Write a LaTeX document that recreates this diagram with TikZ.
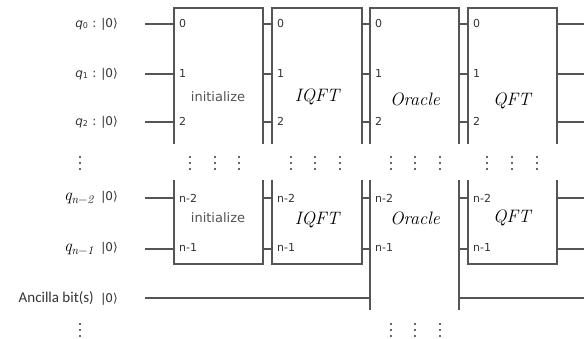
\documentclass[tikz,border=0pt]{standalone}
\usepackage{fontspec}
\setmainfont{DejaVu Sans}
\newfontfamily\calib{Carlito}
\newfontfamily\lmr{Latin Modern Roman}
\definecolor{wirec}{HTML}{555555}
\definecolor{txt}{HTML}{333333}
\begin{document}
\begin{tikzpicture}[x=1pt,y=-1pt,
 boxline/.style={draw=wirec,line width=1.8pt},
 wireline/.style={draw=wirec,line width=1.1pt},
 port/.style={font=\fontsize{11}{11}\selectfont,text=txt,anchor=west,inner sep=0pt},
 gname/.style={font=\fontsize{13}{13}\selectfont,text=txt!85,inner sep=0pt},
 mname/.style={font=\lmr\itshape\fontsize{18}{18}\selectfont,text=black,inner sep=0pt},
 qlab/.style={font=\fontsize{12}{12}\selectfont,text=txt,anchor=east,inner sep=0pt},
 dotc/.style={fill=txt,circle,inner sep=0pt,minimum size=2.4pt}]
\useasboundingbox (0,0) rectangle (584,339);
% left labels
\node[qlab] (l0) at (118,24) {\textit{q}\textsubscript{0} : |0⟩};
\node[qlab] (l1) at (118,74) {\textit{q}\textsubscript{1} : |0⟩};
\node[qlab] (l2) at (118,122) {\textit{q}\textsubscript{2} : |0⟩};
\node[qlab] (l3) at (118,198) {{\color{black}\lmr\itshape\fontsize{17}{17}\selectfont q\textsubscript{n{\upshape −}2}}\ \ |0⟩};
\node[qlab] (l4) at (118,249) {{\color{black}\lmr\itshape\fontsize{17}{17}\selectfont q\textsubscript{n{\upshape −}1}}\ \ |0⟩};
\node[qlab] (l5) at (118,298) {{\calib\fontsize{15}{15}\selectfont Ancilla bit(s)}\ \ |0⟩};
% wire coordinates
\foreach \y/\n in {24/a,74/b,122/c,198/d,249/e,298/f}{
  \coordinate (w\n0) at (145,\y);
  \coordinate (w\n1) at (174,\y);
  \coordinate (w\n2) at (263,\y);
  \coordinate (w\n3) at (272,\y);
  \coordinate (w\n4) at (362,\y);
  \coordinate (w\n5) at (370,\y);
  \coordinate (w\n6) at (459,\y);
  \coordinate (w\n7) at (468,\y);
  \coordinate (w\n8) at (557,\y);
  \coordinate (w\n9) at (584,\y);
}
\foreach \n in {a,b,c,d,e}{
  \draw[wireline] (w\n0) -- (w\n1);
  \draw[wireline] (w\n2) -- (w\n3);
  \draw[wireline] (w\n4) -- (w\n5);
  \draw[wireline] (w\n6) -- (w\n7);
  \draw[wireline] (w\n8) -- (w\n9);
}
\draw[wireline] (wf0) -- (wf5);
\draw[wireline] (wf6) -- (wf9);
% boxes
\foreach \l/\r in {174/263,272/362,370/459,468/557}{
  \draw[boxline] (\l,144) -- (\l,8) -- (\r,8) -- (\r,144);
}
\foreach \l/\r in {174/263,272/362,468/557}{
  \draw[boxline] (\l,180) -- (\l,264) -- (\r,264) -- (\r,180);
}
\draw[boxline] (370,180) -- (370,310);
\draw[boxline] (459,180) -- (459,310);
% port labels
\foreach \l/\k in {174/1,272/2,370/3,468/4}{
  \node[port] (p0\k) at (\l+5,23) {0};
  \node[port] (p1\k) at (\l+5,73) {1};
  \node[port] (p2\k) at (\l+5,121) {2};
  \node[port] (p3\k) at (\l+5,198) {n-2};
  \node[port] (p4\k) at (\l+5,247) {n-1};
}
% gate names
\node[gname] (g1) at (218,97) {initialize};
\node[gname] (g2) at (218,218) {initialize};
\node[mname] (g3) at (317,97) {IQFT};
\node[mname] (g4) at (317,220) {IQFT};
\node[mname] (g5) at (415,99) {Oracle};
\node[mname] (g6) at (415,218) {Oracle};
\node[mname] (g7) at (512,101) {QFT};
\node[mname] (g8) at (512,218) {QFT};
% vertical dots
\foreach \x in {80,190,215,239,291,315,340,391,415,440,487,512,537}{
  \foreach \y in {157,163,169}{
    \node[dotc] at (\x,\y) {};
  }
}
\foreach \x in {80,391,415,440}{
  \foreach \y in {324,330,336}{
    \node[dotc] at (\x,\y) {};
  }
}
\end{tikzpicture}
\end{document}
